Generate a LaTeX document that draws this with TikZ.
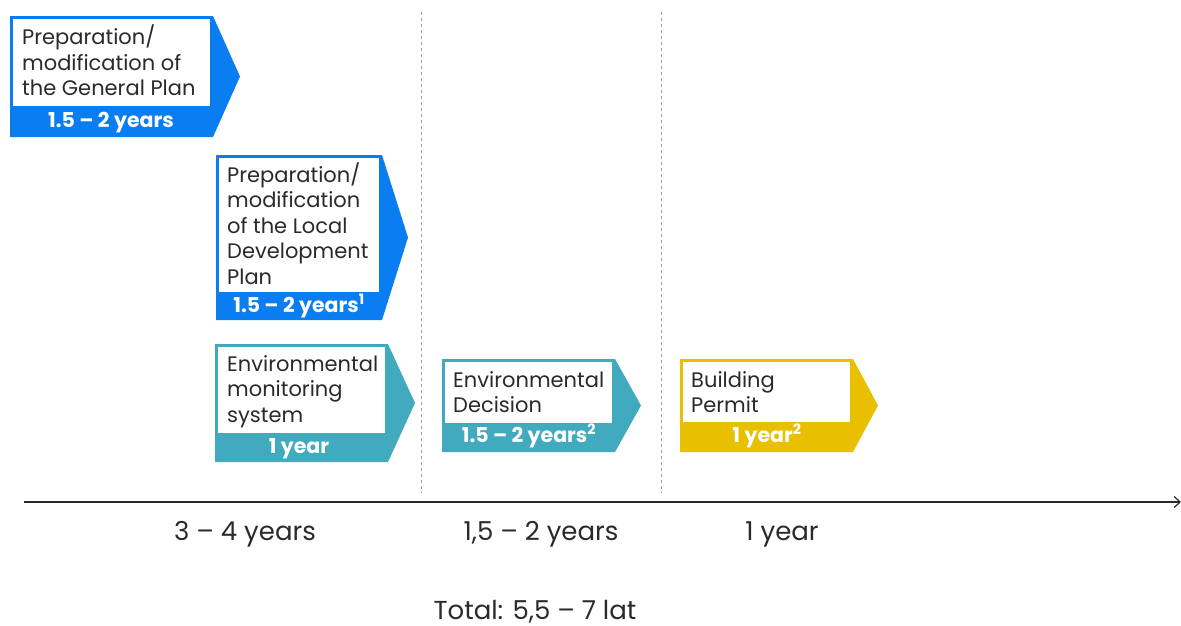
\documentclass[tikz,border=0pt]{standalone}
\usepackage{fontspec}
\setmainfont{Poppins}[Ligatures=NoCommon]
\usetikzlibrary{arrows.meta}
\definecolor{planblue}{HTML}{0A7DF0}
\definecolor{envteal}{HTML}{41AABF}
\definecolor{permityellow}{HTML}{E8C000}
\definecolor{textgray}{HTML}{2A2A2A}
\definecolor{guidegray}{HTML}{A0A0A0}
\tikzset{
  % multi-line texts sit on the baseline of their last line
  stagetext/.style={anchor=base west, inner sep=0pt, align=left, text=textgray,
    font=\fontsize{21}{25.5}\selectfont},
  bandtext/.style={anchor=base, inner sep=0pt, text=white, font=\fontsize{20.5}{22}\selectfont\bfseries},
  axislabel/.style={anchor=base, inner sep=0pt, text=textgray, font=\fontsize{26}{28}\selectfont},
  guide/.style={guidegray, line width=1pt, dash pattern=on 3pt off 3pt},
}
% #1 colour, #2 left, #3 top, #4 body right, #5 bottom, #6 tip x, #7 band top
\newcommand\stageshape[7]{%
  \fill[#1] (#2,#3) -- (#4,#3) -- (#6,{(#3+#5)/2}) -- (#4,#5) -- (#2,#5) -- cycle;
  \fill[white] ({#2+3},{#3+3}) rectangle ({#4-3},#7);
}
\begin{document}
\begin{tikzpicture}[x=1pt, y=-1pt]
  \useasboundingbox[fill=white] (0,0) rectangle (1181,625);

  % phase guides
  \draw[guide] (421,12) -- (421,493);
  \draw[guide] (661,12) -- (661,493);

  % General Plan
  \stageshape{planblue}{10}{16}{213}{137}{240}{106}
  \node[stagetext] (gp) at (22,95.5) {Preparation/\\modification of\\the General Plan};
  \node[bandtext] (gpt) at (111,127.5) {1.5 – 2 years};

  % Local Development Plan
  \stageshape{planblue}{216}{155}{382}{320}{408}{292}
  \node[stagetext] (ldp) at (227,284) {Preparation/\\modification\\of the Local\\Development\\Plan};
  \node[bandtext] (ldpt) at (299,312) {1.5 – 2 years\textsuperscript{1}};

  % Environmental monitoring system
  \stageshape{envteal}{215}{344}{388}{462}{415}{433}
  \node[stagetext] (ems) at (227,422) {Environmental\\monitoring\\system};
  \node[bandtext] (emst) at (299,453) {1 year};

  % Environmental Decision
  \stageshape{envteal}{442}{359}{615}{452}{641}{423}
  \node[stagetext] (ed) at (453,412.5) {Environmental\\Decision};
  \node[bandtext] (edt) at (529,442) {1.5 – 2 years\textsuperscript{2}};

  % Building Permit
  \stageshape{permityellow}{680}{359}{853}{452}{878}{422}
  \node[stagetext] (bp) at (691,412.5) {Building\\Permit};
  \node[bandtext] (bpt) at (767,442) {1 year\textsuperscript{2}};

  % time axis
  \coordinate (axstart) at (24,502);
  \coordinate (axend) at (1181,502);
  \draw[textgray, line width=1.2pt, -{Straight Barb[length=6pt, width=11pt]}] (axstart) -- (axend);

  \node[axislabel] (p1) at (245,540) {3 – 4 years};
  \node[axislabel] (p2) at (541,540) {1,5 – 2 years};
  \node[axislabel] (p3) at (782,540) {1 year};
  \node[axislabel] (tot) at (535,619.5) {Total: 5,5 – 7 lat};
\end{tikzpicture}
\end{document}
